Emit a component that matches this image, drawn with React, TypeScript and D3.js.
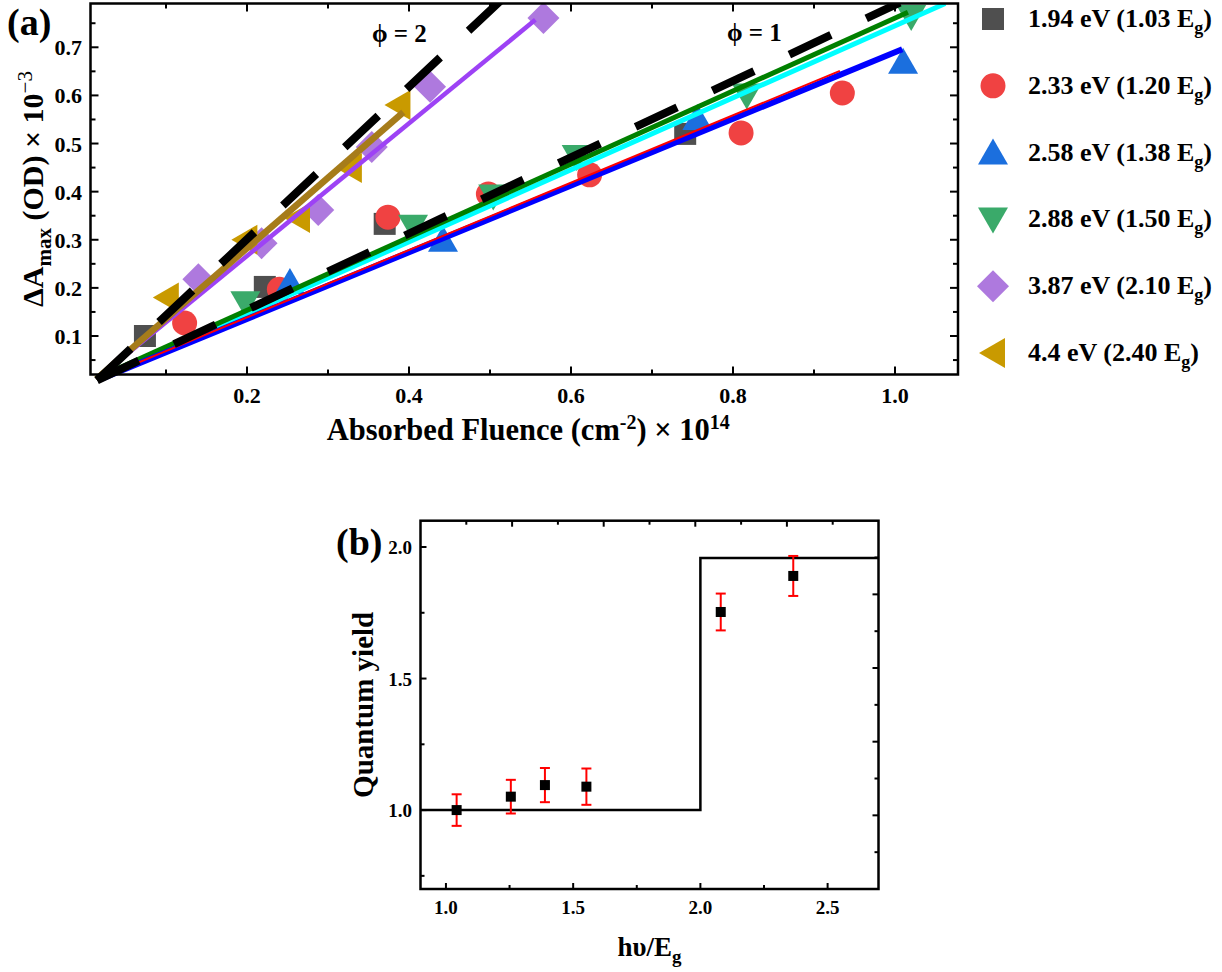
import React from "react";
import * as d3 from "d3";

// ---------- Panel (a) data ----------
const seriesLabels = ["1.94 eV (1.03 E", "2.33 eV (1.20 E", "2.58 eV (1.38 E", "2.88 eV (1.50 E", "3.87 eV (2.10 E", "4.4 eV (2.40 E"];
const seriesColors = ["#4f4f4f", "#f04242", "#1b6fde", "#3aaa6a", "#ae79de", "#c99a00"];
const seriesShapes = ["square", "circle", "triUp", "triDown", "diamond", "triLeft"];

const sq194X = [0.074, 0.222, 0.37, 0.741];
const sq194Y = [0.10, 0.202, 0.333, 0.52];
const ci233X = [0.123, 0.24, 0.374, 0.498, 0.623, 0.81, 0.935];
const ci233Y = [0.127, 0.197, 0.347, 0.395, 0.435, 0.522, 0.605];
const tu258X = [0.253, 0.442, 0.756, 1.01];
const tu258Y = [0.212, 0.30, 0.553, 0.67];
const td288X = [0.198, 0.405, 0.504, 0.607, 0.817, 1.02];
const td288Y = [0.168, 0.327, 0.39, 0.472, 0.60, 0.763];
const di387X = [0.14, 0.218, 0.288, 0.354, 0.426, 0.566];
const di387Y = [0.218, 0.293, 0.362, 0.493, 0.618, 0.761];
const tl440X = [0.101, 0.198, 0.263, 0.327, 0.387];
const tl440Y = [0.18, 0.30, 0.345, 0.449, 0.58];

const seriesX = [sq194X, ci233X, tu258X, td288X, di387X, tl440X];
const seriesY = [sq194Y, ci233Y, tu258Y, td288Y, di387Y, tl440Y];

// fit lines: [x0, y0, x1, y1] in data units
const fitPurple = [0.014, 0.010, 0.556, 0.757];
const fitBrown = [0.014, 0.010, 0.393, 0.565];
const fitCyan = [0.018, 0.010, 1.062, 0.791];
const fitGreen = [0.014, 0.012, 1.016, 0.773];
const fitBlue = [0.016, 0.008, 1.009, 0.696];
const fitRed = [0.016, 0.010, 0.932, 0.651];
const fitDash2 = [0.015, 0.008, 0.515, 0.80];
const fitDash1 = [0.015, 0.008, 1.006, 0.793];

const aXMajor = [0.2, 0.4, 0.6, 0.8, 1.0];
const aXMinor = [0.1, 0.3, 0.5, 0.7, 0.9];
const aYMajor = [0.1, 0.2, 0.3, 0.4, 0.5, 0.6, 0.7];
const aYMinor = [0.05, 0.15, 0.25, 0.35, 0.45, 0.55, 0.65, 0.75];

// ---------- Panel (b) data ----------
const qyX = [1.042, 1.255, 1.389, 1.552, 2.08, 2.365];
const qyY = [1.0, 1.051, 1.095, 1.089, 1.753, 1.89];
const qyErr = [0.06, 0.064, 0.065, 0.069, 0.07, 0.076];
const stepX = [0.9, 2.0, 2.7];
const stepY = [1.0, 1.958, 1.958];

const bXMajor = [1.0, 1.5, 2.0, 2.5];
const bXMinor = [1.25, 1.75, 2.25];
const bYMajor = [1.0, 1.5, 2.0];
const bYMinor = [0.75, 1.25, 1.75];
const bTopMajor = [2, 4, 6, 8];
const bTopMinor = [1, 3, 5, 7, 9];
const bRightMajor = [1, 2, 3, 4];
const bRightMinor = [0.5, 1.5, 2.5, 3.5, 4.5];

const FONT = '"Liberation Serif", "Times New Roman", Times, serif';

function markerPath(shape: string, cx: number, cy: number): string {
  switch (shape) {
    case "square": {
      const h = 11;
      return `M${cx - h},${cy - h}H${cx + h}V${cy + h}H${cx - h}Z`;
    }
    case "circle": {
      const r = 12.5;
      return `M${cx - r},${cy}A${r},${r} 0 1,0 ${cx + r},${cy}A${r},${r} 0 1,0 ${cx - r},${cy}Z`;
    }
    case "triUp":
      return `M${cx},${cy - 14}L${cx + 15},${cy + 12}L${cx - 15},${cy + 12}Z`;
    case "triDown":
      return `M${cx},${cy + 14}L${cx + 15},${cy - 12}L${cx - 15},${cy - 12}Z`;
    case "diamond":
      return `M${cx},${cy - 16}L${cx + 16},${cy}L${cx},${cy + 16}L${cx - 16},${cy}Z`;
    case "triLeft":
      return `M${cx - 14},${cy}L${cx + 12},${cy - 15}L${cx + 12},${cy + 15}Z`;
  }
  return "";
}

export default function App() {
  // Panel (a) scales
  const aX = d3.scaleLinear().domain([0.0068, 1.0778]).range([90.5, 958]);
  const aY = d3.scaleLinear().domain([0.02, 0.791]).range([374.5, 3.5]);
  const [ax0, ax1] = aX.range();
  const [ay0, ay1] = aY.range();

  // Panel (b) scales
  const bX = d3.scaleLinear().domain([0.9, 2.7]).range([420.5, 878.5]);
  const bY = d3.scaleLinear().domain([0.7, 2.1]).range([889, 520.7]);
  const bTop = d3.scaleLinear().domain([0, 10]).range(bX.range());
  const bRight = d3.scaleLinear().domain([0, 5]).range(bY.range());
  const [bx0, bx1] = bX.range();
  const [by0, by1] = bY.range();

  const fitLine = (f: number[]) => d3.line()([[aX(f[0]), aY(f[1])], [aX(f[2]), aY(f[3])]]) as string;
  const stepPath = d3.line<number>().x((_, i) => bX(stepX[i])).y((_, i) => bY(stepY[i])).curve(d3.curveStepAfter)(stepX) as string;

  const tickStroke = { stroke: "#000", strokeWidth: 2 };

  return (
    <svg width={1222} height={972} style={{ position: "absolute", left: 0, top: 0, background: "#fff" }} fontFamily={FONT}>
      <rect x={0} y={0} width={1222} height={972} fill="#fff" />
      {/* ===== Panel (a) ===== */}
      <g>
        {/* markers */}
        {seriesX.map((xs, si) =>
          xs.map((xv, i) => (
            <path key={`m${si}-${i}`} d={markerPath(seriesShapes[si], aX(xv), aY(seriesY[si][i]))} fill={seriesColors[si]} />
          ))
        )}
        {/* fit lines */}
        <path d={fitLine(fitPurple)} stroke="#9d42f5" strokeWidth={4.5} fill="none" />
        <path d={fitLine(fitBrown)} stroke="#a67c1a" strokeWidth={6.5} fill="none" />
        <path d={fitLine(fitCyan)} stroke="#00ffff" strokeWidth={5} fill="none" />
        <path d={fitLine(fitGreen)} stroke="#008000" strokeWidth={5} fill="none" />
        <path d={fitLine(fitBlue)} stroke="#0000ff" strokeWidth={6} fill="none" />
        <path d={fitLine(fitRed)} stroke="#ff0000" strokeWidth={2} fill="none" />
        <path d={fitLine(fitDash2)} stroke="#000" strokeWidth={8} strokeDasharray="46 39" fill="none" />
        <path d={fitLine(fitDash1)} stroke="#000" strokeWidth={8} strokeDasharray="46 39" fill="none" />
        {/* cover anything drawn above the top frame */}
        <rect x={ax0} y={0} width={ax1 - ax0} height={ay1} fill="#fff" />

        {/* frame */}
        <rect x={ax0} y={ay1} width={ax1 - ax0} height={ay0 - ay1} fill="none" stroke="#000" strokeWidth={2.5} />
        {/* ticks */}
        {aXMajor.map((v) => (
          <g key={`axM${v}`}>
            <line x1={aX(v)} x2={aX(v)} y1={ay0} y2={ay0 - 8} {...tickStroke} />
            <line x1={aX(v)} x2={aX(v)} y1={ay1} y2={ay1 + 8} {...tickStroke} />
            <text x={aX(v)} y={403} textAnchor="middle" fontSize={22} fontWeight="bold">{v.toFixed(1)}</text>
          </g>
        ))}
        {aXMinor.map((v) => (
          <g key={`axm${v}`}>
            <line x1={aX(v)} x2={aX(v)} y1={ay0} y2={ay0 - 5} {...tickStroke} />
            <line x1={aX(v)} x2={aX(v)} y1={ay1} y2={ay1 + 5} {...tickStroke} />
          </g>
        ))}
        {aYMajor.map((v) => (
          <g key={`ayM${v}`}>
            <line x1={ax0} x2={ax0 + 8} y1={aY(v)} y2={aY(v)} {...tickStroke} />
            <line x1={ax1} x2={ax1 - 8} y1={aY(v)} y2={aY(v)} {...tickStroke} />
            <text x={82} y={aY(v) + 8} textAnchor="end" fontSize={22} fontWeight="bold">{v.toFixed(1)}</text>
          </g>
        ))}
        {aYMinor.map((v) => (
          <g key={`aym${v}`}>
            <line x1={ax0} x2={ax0 + 5} y1={aY(v)} y2={aY(v)} {...tickStroke} />
            <line x1={ax1} x2={ax1 - 5} y1={aY(v)} y2={aY(v)} {...tickStroke} />
          </g>
        ))}
        {/* axis labels */}
        <text x={(ax0 + ax1) / 2 + 4} y={440} textAnchor="middle" fontSize={30.5} fontWeight="bold">
          Absorbed Fluence (cm<tspan dy={-11} fontSize={20}>-2</tspan><tspan dy={11}>) × 10</tspan><tspan dy={-11} fontSize={20}>14</tspan>
        </text>
        <text transform={`translate(43,${(ay0 + ay1) / 2}) rotate(-90)`} textAnchor="middle" fontSize={30} fontWeight="bold">
          ΔA<tspan dy={8} fontSize={21}>max</tspan><tspan dy={-8}> (OD) × 10</tspan><tspan dy={-11} fontSize={21} fontWeight="normal">−3</tspan>
        </text>
        <text x={7} y={35} fontSize={38} fontWeight="bold">(a)</text>
        <text x={372} y={42} fontSize={25} fontWeight="bold">ϕ = 2</text>
        <text x={727} y={41} fontSize={25} fontWeight="bold">ϕ = 1</text>

        {/* legend */}
        {seriesLabels.map((lab, i) => {
          const cy = 19 + i * 66.8;
          return (
            <g key={`lg${i}`}>
              <path d={markerPath(seriesShapes[i], 993, cy)} fill={seriesColors[i]} />
              <text x={1028} y={cy + 8} fontSize={26} fontWeight="bold">
                {lab}<tspan dy={7} fontSize={18}>g</tspan><tspan dy={-7}>)</tspan>
              </text>
            </g>
          );
        })}
      </g>

      {/* ===== Panel (b) ===== */}
      <g>
        <path d={stepPath} fill="none" stroke="#000" strokeWidth={2.5} />
        {qyX.map((xv, i) => {
          const cx = bX(xv);
          const yt = bY(qyY[i] + qyErr[i]);
          const yb = bY(qyY[i] - qyErr[i]);
          return (
            <g key={`qy${i}`}>
              <line x1={cx} x2={cx} y1={yt} y2={yb} stroke="#ff0000" strokeWidth={2} />
              <line x1={cx - 5} x2={cx + 5} y1={yt} y2={yt} stroke="#ff0000" strokeWidth={2} />
              <line x1={cx - 5} x2={cx + 5} y1={yb} y2={yb} stroke="#ff0000" strokeWidth={2} />
              <rect x={cx - 5} y={bY(qyY[i]) - 5} width={10} height={10} fill="#000" />
            </g>
          );
        })}
        <rect x={bx0} y={by1} width={bx1 - bx0} height={by0 - by1} fill="none" stroke="#000" strokeWidth={2.5} />
        {bXMajor.map((v) => (
          <g key={`bxM${v}`}>
            <line x1={bX(v)} x2={bX(v)} y1={by0} y2={by0 - 6} {...tickStroke} />
            <text x={bX(v)} y={914} textAnchor="middle" fontSize={19} fontWeight="bold">{v.toFixed(1)}</text>
          </g>
        ))}
        {bXMinor.map((v) => (
          <line key={`bxm${v}`} x1={bX(v)} x2={bX(v)} y1={by0} y2={by0 - 4} {...tickStroke} />
        ))}
        {bTopMajor.map((v) => (
          <line key={`btM${v}`} x1={bTop(v)} x2={bTop(v)} y1={by1} y2={by1 + 6} {...tickStroke} />
        ))}
        {bTopMinor.map((v) => (
          <line key={`btm${v}`} x1={bTop(v)} x2={bTop(v)} y1={by1} y2={by1 + 4} {...tickStroke} />
        ))}
        {bYMajor.map((v) => (
          <g key={`byM${v}`}>
            <line x1={bx0} x2={bx0 + 6} y1={bY(v)} y2={bY(v)} {...tickStroke} />
            <text x={412} y={bY(v) + 7} textAnchor="end" fontSize={19} fontWeight="bold">{v.toFixed(1)}</text>
          </g>
        ))}
        {bYMinor.map((v) => (
          <line key={`bym${v}`} x1={bx0} x2={bx0 + 4} y1={bY(v)} y2={bY(v)} {...tickStroke} />
        ))}
        {bRightMajor.map((v) => (
          <line key={`brM${v}`} x1={bx1} x2={bx1 - 6} y1={bRight(v)} y2={bRight(v)} {...tickStroke} />
        ))}
        {bRightMinor.map((v) => (
          <line key={`brm${v}`} x1={bx1} x2={bx1 - 4} y1={bRight(v)} y2={bRight(v)} {...tickStroke} />
        ))}
        <text x={(bx0 + bx1) / 2} y={956} textAnchor="middle" fontSize={27} fontWeight="bold">
          hυ/E<tspan dy={7} fontSize={19}>g</tspan>
        </text>
        <text transform={`translate(373,${(by0 + by1) / 2}) rotate(-90)`} textAnchor="middle" fontSize={29} fontWeight="bold">
          Quantum yield
        </text>
        <text x={336} y={555} fontSize={38} fontWeight="bold">(b)</text>
      </g>
    </svg>
  );
}
